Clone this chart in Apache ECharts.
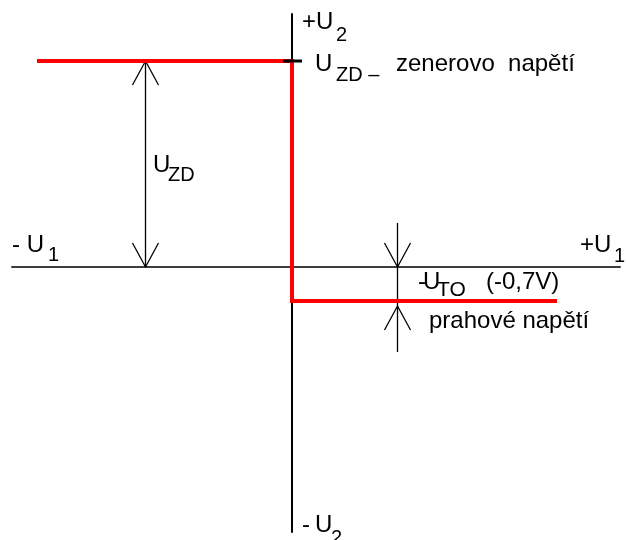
<!DOCTYPE html>
<html>
<head>
<meta charset="utf-8">
<script src="https://cdn.jsdelivr.net/npm/echarts@6/dist/echarts.min.js"></script>
<style>
  html, body { margin: 0; padding: 0; background: #fff; }
  #chart { width: 627px; height: 540px; }
</style>
</head>
<body>
<div id="chart"></div>
<script>
// characteristic of a zener diode (schematic units, origin where the axes cross)
var zenerLevel = 20.6;       // U_ZD
var thresholdLevel = -3.4;   // -U_TO
var curveX = [-25.5, 0, 0, 26.5];
var curveY = [zenerLevel, zenerLevel, thresholdLevel, thresholdLevel];
var cornerTickX = [-0.9, 1.0];

// dimension arrows: [x, from, to]
var dimLines = [[-14.7, 0, zenerLevel], [10.5, -8.5, 4.4]];
// arrow tips: [x, y, direction (1 = up, -1 = down)]
var arrowTips = [[-14.7, zenerLevel, 1], [-14.7, 0, -1], [10.5, 0, -1], [10.5, -3.9, 1]];

var font = '"Liberation Sans", Arial, sans-serif';

// text pieces: [text, x, baseline, size]
var textParts = [
    ['+U', 302, 30, 24], ['2', 336, 42, 20],
    ['U', 315, 72, 24], ['ZD \u2013', 336, 82, 20], ['zenerovo  napět\u00ed', 396, 72, 24],
    ['U', 153, 173, 24], ['ZD', 168, 182, 20],
    ['- U', 12, 253, 24], ['1', 48, 262, 20],
    ['+U', 580, 253, 24], ['1', 614, 263, 20],
    ['-', 418, 290, 24], ['U', 423, 290, 24], ['TO', 437, 297, 21], ['(-0,7V)', 486, 290, 24],
    ['prahov\u00e9 napět\u00ed', 429, 329, 24],
    ['-', 302, 533, 24], ['U', 315, 533, 24], ['2', 331, 545, 20]
];

function zip(xs, ys) {
    var out = [];
    for (var i = 0; i < xs.length; i++) out.push([xs[i], ys[i]]);
    return out;
}

var graphics = textParts.map(function (p) {
    return {
        type: 'text',
        silent: true,
        style: {
            text: p[0],
            x: p[1],
            y: p[2] - 0.33 * p[3],
            font: p[3] + 'px ' + font,
            fill: '#000',
            verticalAlign: 'middle',
            align: 'left'
        }
    };
});

var mychart = echarts.init(document.getElementById('chart'));
var option = {
    animation: false,
    backgroundColor: '#fff',
    grid: { left: 12, right: 7, top: 14, bottom: 8 },
    xAxis: {
        type: 'value', min: -28, max: 32.8,
        axisLine: { show: true, onZero: true, lineStyle: { color: '#3c3c3c', width: 2 } },
        axisTick: { show: false }, axisLabel: { show: false }, splitLine: { show: false }
    },
    yAxis: {
        type: 'value', min: -26.5, max: 25.3,
        axisLine: { show: true, onZero: true, lineStyle: { color: '#000', width: 2 } },
        axisTick: { show: false }, axisLabel: { show: false }, splitLine: { show: false }
    },
    series: [
        {
            type: 'custom',
            silent: true,
            z: 3,
            data: dimLines,
            renderItem: function (params, api) {
                var a = api.coord([api.value(0), api.value(1)]);
                var b = api.coord([api.value(0), api.value(2)]);
                return {
                    type: 'line',
                    shape: { x1: Math.round(a[0]) + 0.5, y1: a[1], x2: Math.round(b[0]) + 0.5, y2: b[1] },
                    style: { stroke: '#000', lineWidth: 1.3 }
                };
            }
        },
        {
            type: 'custom',
            silent: true,
            z: 3,
            data: arrowTips,
            renderItem: function (params, api) {
                var p = api.coord([api.value(0), api.value(1)]);
                var d = api.value(2);
                var x = Math.round(p[0]) + 0.5;
                return {
                    type: 'polyline',
                    shape: { points: [[x - 13, p[1] + d * 24], [x, p[1]], [x + 13, p[1] + d * 24]] },
                    style: { stroke: '#000', lineWidth: 1.3, fill: null }
                };
            }
        },
        {
            type: 'line',
            silent: true,
            z: 4,
            data: zip(curveX, curveY),
            symbol: 'none',
            lineStyle: { color: '#ff0000', width: 4, join: 'miter', cap: 'butt' }
        },
        {
            type: 'line',
            silent: true,
            z: 5,
            data: zip(cornerTickX, [zenerLevel, zenerLevel]),
            symbol: 'none',
            lineStyle: { color: '#000', width: 3 }
        }
    ],
    graphic: graphics
};
mychart.setOption(option);
</script>
</body>
</html>
